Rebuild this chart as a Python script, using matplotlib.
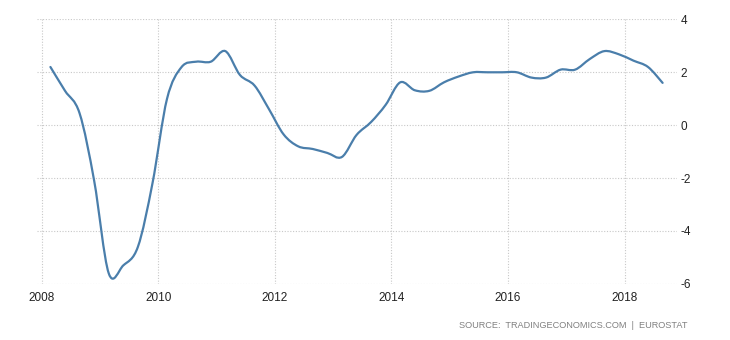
import numpy as np
import matplotlib
matplotlib.use("Agg")
import matplotlib.pyplot as plt
from matplotlib.path import Path
from matplotlib.patches import PathPatch

# Quarterly data 2008Q1 .. 2018Q3
years = [y for y in range(2008, 2019) for _ in range(4)][:43]
quarters = [q for _ in range(2008, 2019) for q in range(1, 5)][:43]
values = [2.2, 1.3, 0.45, -2.1,
          -5.6, -5.3, -4.6, -2.2,
          1.0, 2.2, 2.4, 2.4,
          2.8, 1.9, 1.5, 0.6,
          -0.35, -0.8, -0.9, -1.05,
          -1.2, -0.37, 0.12, 0.77,
          1.62, 1.32, 1.3, 1.62,
          1.84, 2.0, 2.0, 2.0,
          2.0, 1.8, 1.8, 2.1,
          2.1, 2.5, 2.8, 2.68,
          2.44, 2.2, 1.6]
xticks = [2008, 2010, 2012, 2014, 2016, 2018]
yticks = [-6, -4, -2, 0, 2, 4]
source = "SOURCE:  TRADINGECONOMICS.COM  |  EUROSTAT"

t = np.array([y + (q - 1) / 4 + 0.15 for y, q in zip(years, quarters)])
v = np.array(values)

fig = plt.figure(figsize=(7.3, 3.4), dpi=100)
ax = fig.add_axes([0.05, 0.165, 0.877, 0.778])

# smooth curve through the points (Catmull-Rom as cubic Bezier)
P = np.column_stack([t, v])
Pp = np.vstack([P[0], P, P[-1]])
verts = [tuple(P[0])]
codes = [Path.MOVETO]
for i in range(len(P) - 1):
    p0, p1, p2, p3 = Pp[i], Pp[i + 1], Pp[i + 2], Pp[i + 3]
    c1 = p1 + (p2 - p0) / 6.0
    c2 = p2 - (p3 - p1) / 6.0
    verts += [tuple(c1), tuple(c2), tuple(p2)]
    codes += [Path.CURVE4] * 3
ax.add_patch(PathPatch(Path(verts, codes), fill=False, edgecolor="#4a7eab",
                       lw=1.6, capstyle="round", joinstyle="round", zorder=3))

ax.set_xlim(2007.911, 2018.892)
ax.set_ylim(-6, 4)
ax.set_xticks(xticks)
ax.set_xticklabels([str(x) for x in xticks])
ax.set_yticks(yticks)
ax.set_yticklabels([str(y) for y in yticks])
ax.yaxis.tick_right()
for s in ax.spines.values():
    s.set_visible(False)
ax.tick_params(length=0, labelsize=8.5, colors="#222222")
ax.tick_params(axis="x", pad=6)
ax.tick_params(axis="y", pad=3)
for lab in ax.get_xticklabels() + ax.get_yticklabels():
    lab.set_fontfamily("Liberation Sans")
ax.grid(True, color="#c8c8c8", linestyle=(0, (1, 1.5)), lw=0.8)
ax.set_axisbelow(True)

fig.text(0.942, 0.043, source, ha="right", va="center", fontsize=6.6,
         color="#808080", family="Liberation Sans")

fig.savefig("out.png", dpi=100)
